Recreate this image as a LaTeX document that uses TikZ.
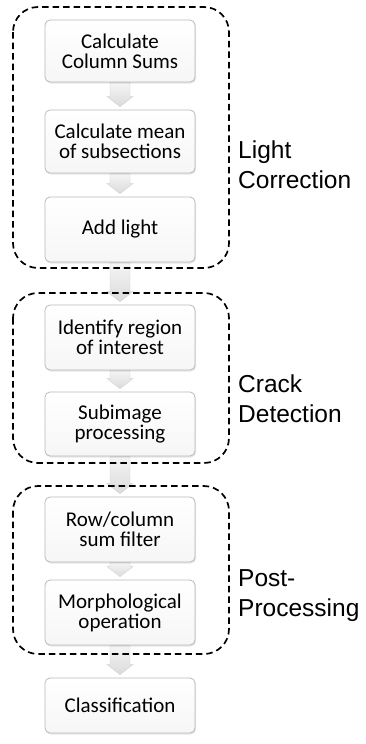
\documentclass[tikz,border=0pt]{standalone}
\usepackage{fontspec}
\setmainfont{Carlito}
\newfontfamily\labelfont{Liberation Sans}
\usetikzlibrary{calc,shadows,backgrounds}

\tikzset{
  stepbox/.style={draw=gray!55, line width=0.8pt, rounded corners=5pt,
    top color=white, bottom color=gray!7,
    drop shadow={opacity=0.2, shadow xshift=1pt, shadow yshift=-1.5pt},
    minimum width=150pt, minimum height=64pt, align=center, inner sep=2pt,
    font=\fontsize{21}{20}\selectfont},
  groupbox/.style={draw=black, line width=1.7pt, dash pattern=on 6.5pt off 4pt,
    rounded corners=25pt},
  grouplabel/.style={anchor=base west, align=left, inner sep=0pt,
    font=\labelfont\fontsize{24.5}{30}\selectfont},
  arrowfill/.style={draw=gray!35, line width=0.4pt, top color=gray!8, bottom color=gray!28}
}

% block arrow from the bottom of one box down to the top of the next
\newcommand{\flowarrow}[2]{%
  \path[arrowfill] let \p1=(#1.south), \p2=(#2.north) in
    (\x1-10pt,\y1) -- (\x1+10pt,\y1) -- (\x1+10pt,\y2+13pt) -- (\x1+13pt,\y2+13pt)
    -- (\x1,\y2+3pt) -- (\x1-13pt,\y2+13pt) -- (\x1-10pt,\y2+13pt) -- cycle;}

\begin{document}
\begin{tikzpicture}[x=1pt, y=-1pt]
\useasboundingbox (0,0) rectangle (366,744);

% processing steps
\node[stepbox, minimum height=62pt] (colsum) at (120,51) {Calculate\\Column Sums};
\node[stepbox, minimum height=63pt] (mean) at (120,141.5) {Calculate mean\\of subsections};
\node[stepbox, minimum height=65pt] (addlight) at (120,229.5) {Add light};
\node[stepbox, minimum height=65pt] (roi) at (120,337.5) {Identify region\\of interest};
\node[stepbox] (subimg) at (120,424) {Subimage\\processing};
\node[stepbox, minimum height=65pt] (sumfilter) at (120,529.5) {Row/column\\sum filter};
\node[stepbox, minimum height=65pt] (morph) at (120,612.5) {Morphological\\operation};
\node[stepbox, minimum height=55pt] (classify) at (120,705.5) {Classification};

% arrows sit underneath the boxes and the dashed frames
\begin{scope}[on background layer]
\flowarrow{colsum}{mean}
\flowarrow{mean}{addlight}
\flowarrow{addlight}{roi}
\flowarrow{roi}{subimg}
\flowarrow{subimg}{sumfilter}
\flowarrow{sumfilter}{morph}
\flowarrow{morph}{classify}
\end{scope}

% stage frames
\draw[groupbox] (13,7) rectangle (229,268);
\draw[groupbox] (13,293) rectangle (229,463);
\draw[groupbox] (13,486) rectangle (229,654);

\node[grouplabel] (light) at (238,188) {Light\\Correction};
\node[grouplabel] (crack) at (238,422) {Crack\\Detection};
\node[grouplabel] (post) at (238,616) {Post-\\Processing};
\end{tikzpicture}
\end{document}
